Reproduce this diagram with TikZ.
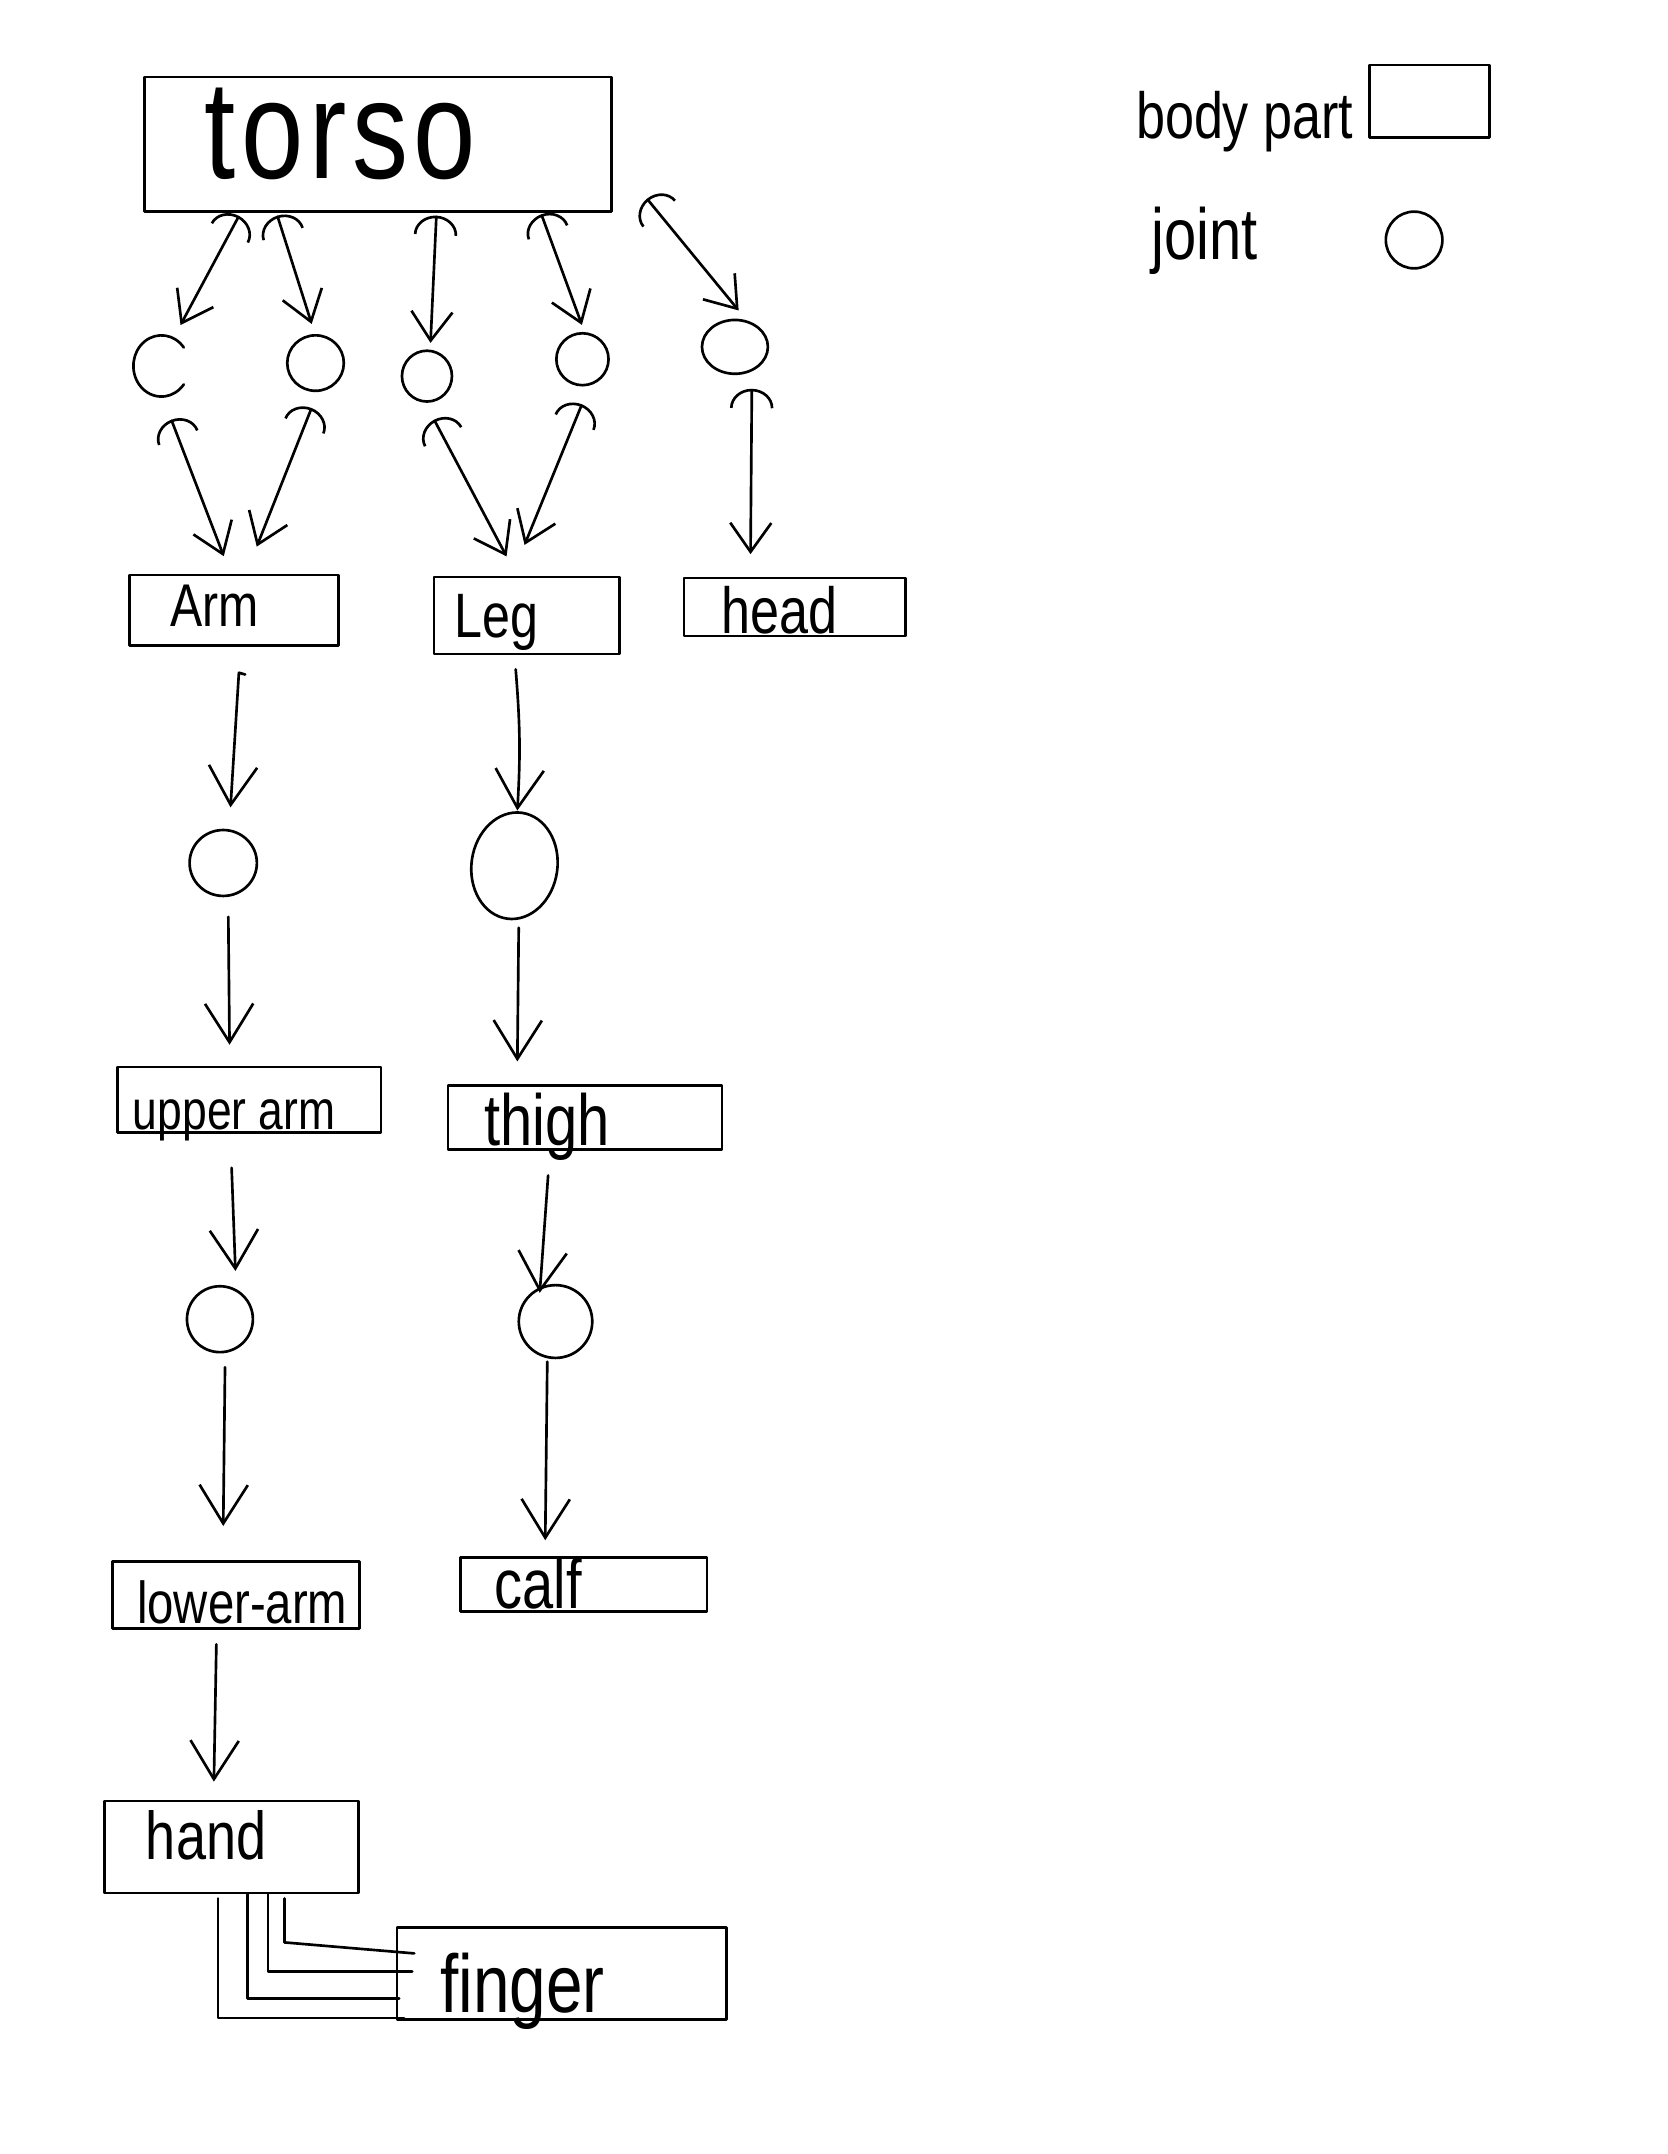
\documentclass[tikz,border=0pt]{standalone}
\usepackage{fontspec}
\setmainfont{Liberation Sans}[FakeStretch=0.8]
\usetikzlibrary{arrows.meta,calc,shapes.geometric}
\begin{document}
\begin{tikzpicture}[x=0.02cm,y=-0.02cm, line width=1.1pt, line cap=round, line join=round,
  part/.style={draw, rectangle, inner sep=0pt},
  jt/.style={draw, ellipse, inner sep=0pt},
  txt/.style={anchor=base west, inner sep=0pt},
  bi/.style={{Arc Barb[length=8pt,width=18pt]}-{Straight Barb[length=12pt,width=17pt]}},
  one/.style={-{Straight Barb[length=16pt,width=20pt]}}]
\useasboundingbox (0,0) rectangle (1214,1568);

% boxes
\node[part, minimum width=6.8cm, minimum height=1.96cm] (torso) at (275,105) {};
\node[part, minimum width=1.75cm, minimum height=1.054cm] (keybox) at (1040.7,73.6) {};
\node[part, minimum width=3.046cm, minimum height=1.03cm] (arm) at (170.5,444.3) {};
\node[part, minimum width=2.696cm, minimum height=1.12cm] (leg) at (383.4,448) {};
\node[part, minimum width=3.224cm, minimum height=0.846cm] (head) at (578.4,441.8) {};
\node[part, minimum width=3.832cm, minimum height=0.952cm] (uarm) at (181.5,800.4) {};
\node[part, minimum width=3.99cm, minimum height=0.936cm] (thigh) at (425.75,813.4) {};
\node[part, minimum width=3.596cm, minimum height=0.98cm] (larm) at (171.9,1161.1) {};
\node[part, minimum width=3.59cm, minimum height=0.786cm] (calf) at (425,1153.5) {};
\node[part, minimum width=3.7cm, minimum height=1.34cm] (hand) at (168.5,1344.5) {};
\node[part, minimum width=4.8cm, minimum height=1.34cm] (finger) at (409,1436.5) {};

% joints
\node[ellipse, inner sep=0pt, minimum width=0.816cm, minimum height=0.892cm] (j1) at (117.5,266.4) {};
\draw ($(j1.center)+(37:0.408cm and 0.446cm)$) arc[start angle=37, end angle=323, x radius=0.408cm, y radius=0.446cm];
\node[jt, minimum width=0.824cm, minimum height=0.808cm] (j2) at (229.7,264.3) {};
\node[jt, minimum width=0.728cm, minimum height=0.74cm] (j3) at (310.8,273.8) {};
\node[jt, minimum width=0.76cm, minimum height=0.756cm] (j4) at (424,261.5) {};
\node[jt, minimum width=0.96cm, minimum height=0.784cm] (j5) at (535,252.5) {};
\node[jt, minimum width=0.98cm, minimum height=0.96cm] (ja1) at (162.5,628.2) {};
\node[jt, minimum width=1.252cm, minimum height=1.556cm, rotate=-8] (jl1) at (374.5,630.2) {};
\node[jt, minimum width=0.96cm, minimum height=0.96cm] (ja2) at (160.1,960.3) {};
\node[jt, minimum width=1.07cm, minimum height=1.06cm] (jl2) at (404.4,962) {};
\node[jt, minimum width=0.824cm, minimum height=0.826cm] (keyjt) at (1029.4,174.7) {};

% texts
\node[txt, font=\fontsize{58}{60}\selectfont\addfontfeature{LetterSpace=4}] (ttorso) at (148,130) {torso};
\node[txt, font=\fontsize{27}{30}\selectfont] (tbody) at (826,100.7) {body part};
\node[txt, font=\fontsize{30}{32}\selectfont] (tjoint) at (837,189) {joint};
\node[txt, font=\fontsize{25}{28}\selectfont] (tarm) at (123,456) {Arm};
\node[txt, font=\fontsize{26}{28}\selectfont] (tleg) at (330,464) {Leg};
\node[txt, font=\fontsize{27}{30}\selectfont] (thead) at (524,461.5) {head};
\node[txt, font=\fontsize{23}{26}\selectfont] (tuarm) at (95.8,822.5) {upper arm};
\node[txt, font=\fontsize{30}{33}\selectfont] (tthigh) at (351.5,834) {thigh};
\node[txt, font=\fontsize{24.5}{27}\selectfont] (tlarm) at (98.8,1182) {lower-arm};
\node[txt, font=\fontsize{29}{31}\selectfont] (tcalf) at (359,1171) {calf};
\node[txt, font=\fontsize{28}{30}\selectfont] (thand) at (105.3,1353.7) {hand};
\node[txt, font=\fontsize{34}{36}\selectfont] (tfinger) at (319.8,1465) {finger};

% torso <-> joints
\draw[bi] ($(torso.south west)+(69.9,2.2)$) -- ($(j1)+(13.9,-29.8)$);
\draw[bi] ($(torso.south west)+(97.8,2)$) -- ($(j2)+(-2.8,-28.5)$);
\draw[bi] ($(torso.south west)+(213.6,2)$) -- ($(j3)+(2.6,-24.2)$);
\draw[bi] ($(torso.south west)+(290,1)$) -- ($(j4)+(-0.4,-25)$);
\draw[bi] ($(torso.south east)+(25,-10.3)$) -- ($(j5)+(2.7,-26.5)$);

% joints <-> arm / leg / head
\draw[bi] ($(j1)+(7.2,39.1)$) -- ($(arm.north west)+(69.5,-12.7)$);
\draw[bi] ($(j2)+(-2.9,32.7)$) -- ($(arm.north west)+(93.5,-19.7)$);
\draw[bi] ($(j3)+(5.2,31.7)$) -- ($(leg.north west)+(53.7,-14)$);
\draw[bi] ($(j4)+(-0.4,32.8)$) -- ($(leg.north west)+(66.8,-22.4)$);
\draw[bi] ($(j5)+(12.3,30.5)$) -- ($(head.north west)+(49.5,-16.3)$);

% arm chain
\draw[one] ($(arm.south)+(8,20)$) -- ($(arm.south)+(3.4,18.7)$) -- ($(ja1)+(5.3,-40.5)$);
\draw[one] ($(ja1)+(3.7,39.2)$) -- ($(uarm.north)+(-14.4,-15.1)$);
\draw[one] ($(uarm.south)+(-12.9,24.9)$) -- ($(ja2)+(11.3,-35.1)$);
\draw[one] ($(ja2)+(3.7,35)$) -- ($(larm.north)+(-9.4,-24.8)$);
\draw[one] ($(larm.south)+(-14.4,10.4)$) -- ($(hand.north)+(-12.8,-13.1)$);

% leg chain
\draw[one] ($(leg.south)+(-8,10.3)$) to[bend left=4] ($(jl1)+(2.1,-40.2)$);
\draw[one] ($(jl1)+(3.1,45.1)$) -- ($(thigh.north)+(-49.15,-16.4)$);
\draw[one] ($(thigh.south)+(-26.75,17.9)$) -- ($(jl2)+(-11.5,-20.9)$);
\draw[one] ($(jl2)+(-6,29.2)$) -- ($(calf.north)+(-28.1,-11.7)$);

% hand -- finger links
\draw ($(hand.south west)+(83.6,3)$) |- ($(finger.south west)+(6,-2)$);
\draw ($(hand.south west)+(105,0)$) |- ($(finger.south west)+(2.5,-16)$);
\draw ($(hand.south west)+(120,0)$) |- ($(finger.south west)+(12,-36)$);
\draw ($(hand.south west)+(132,3)$) -- ++(0,32) -- ($(finger.south west)+(13.5,-49)$);
\end{tikzpicture}
\end{document}
